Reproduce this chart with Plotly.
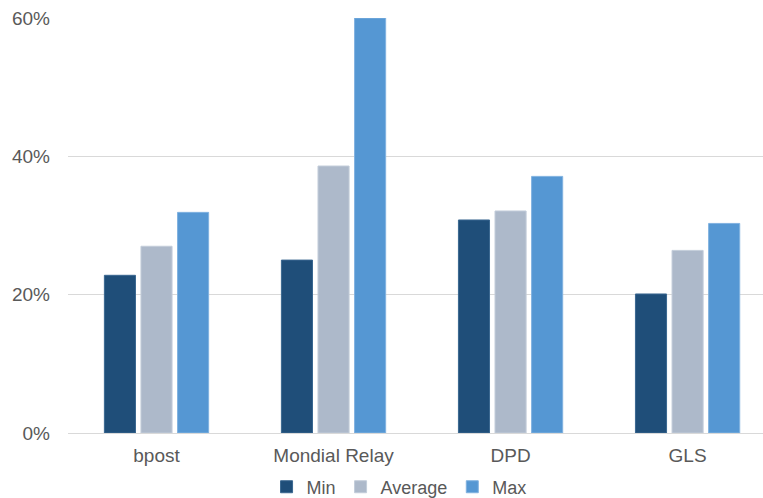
import plotly.graph_objects as go

carriers = ["bpost", "Mondial Relay", "DPD", "GLS"]
min_vals = [0.228, 0.250, 0.308, 0.201]
avg_vals = [0.270, 0.386, 0.321, 0.264]
max_vals = [0.319, 0.600, 0.371, 0.303]
y_ticks = [0, 0.2, 0.4, 0.6]
y_tick_labels = ["0%", "20%", "40%", "60%"]

series = [
    ("Min", min_vals, "#1F4E79", "#3A6790"),
    ("Average", avg_vals, "#ADB9CA", "#C3CDDA"),
    ("Max", max_vals, "#5597D3", "#80B2E0"),
]

fig = go.Figure()
for name, vals, color, edge in series:
    fig.add_trace(go.Bar(
        x=carriers, y=vals, name=name,
        marker=dict(color=color, line=dict(color=edge, width=1)),
    ))

font_family = "Liberation Sans, Arial, sans-serif"
text_color = "#595959"
fig.update_layout(
    width=763, height=498,
    margin=dict(l=68, r=0, t=18, b=65),
    paper_bgcolor="white", plot_bgcolor="white",
    barmode="group", bargap=0.38, bargroupgap=0.15,
    font=dict(family=font_family, size=19, color=text_color),
    showlegend=True,
    legend=dict(
        orientation="h", xref="container", x=0.523, xanchor="center",
        yref="container", y=0.022, yanchor="middle",
        font=dict(size=18, color=text_color),
        itemwidth=30, tracegroupgap=0,
    ),
    xaxis=dict(
        range=[-0.5, 3.426], showgrid=False, showline=False,
        ticks="", ticklabelstandoff=9,
        tickfont=dict(size=19, color=text_color),
    ),
    yaxis=dict(
        range=[0, 0.6], tickvals=y_ticks, ticktext=y_tick_labels,
        showgrid=True, gridcolor="#D9D9D9", gridwidth=1,
        zeroline=True, zerolinecolor="#D9D9D9", zerolinewidth=1,
        showline=False, ticks="", ticklabelstandoff=17,
        tickfont=dict(size=19, color=text_color),
    ),
)

fig.write_html("out.html")
